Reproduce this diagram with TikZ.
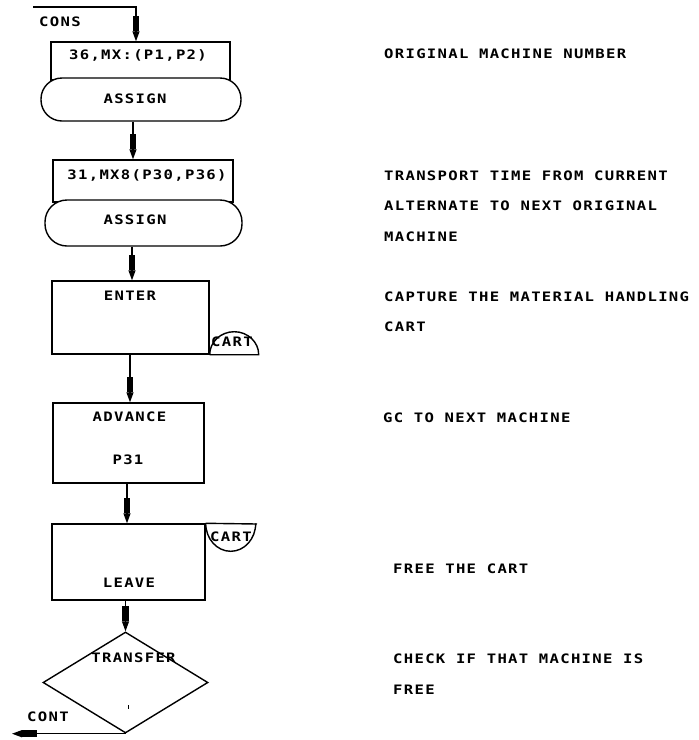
\documentclass[tikz,border=0pt]{standalone}
\usepackage{fontspec}
\newfontfamily\typer[FakeStretch=1.2,LetterSpace=10,UprightFont={* Bold},BoldFont={* Bold}]{DejaVu Sans Mono}
\usetikzlibrary{arrows.meta,shapes.geometric}
\tikzset{
  ln/.style={line width=1.4pt},
  box/.style={draw,line width=1.4pt,rectangle,inner sep=0pt},
  stad/.style={draw,line width=1.4pt,rectangle,rounded corners=21pt,fill=white,inner sep=0pt},
  txt/.style={font=\typer\fontsize{13}{15}\selectfont,inner sep=0pt,anchor=base},
  ltxt/.style={txt,anchor=base west},
  dart/.style={line width=1.2pt,-{Rectangle[length=15pt,width=6.5pt,sep=0pt]Triangle[length=10pt,width=7pt]}},
  dec/.style={shape=diamond,draw,line width=1.4pt,inner sep=0pt,shape aspect=1.65,minimum width=165pt,minimum height=101pt}
}
\begin{document}
\begin{tikzpicture}[x=1pt,y=-1pt]
\fill[white] (0,0) rectangle (699,740);
\useasboundingbox (0,0) rectangle (699,740);

% blocks
\node[box,minimum width=179pt,minimum height=38pt] (b1) at (140.5,61) {};
\node[stad,minimum width=200pt,minimum height=43pt] (s1) at (141,99.5) {};
\node[box,minimum width=180pt,minimum height=42pt] (b2) at (143,181) {};
\node[stad,rounded corners=22pt,minimum width=197pt,minimum height=46pt] (s2) at (143.5,223) {};
\node[box,minimum width=157pt,minimum height=73pt] (en) at (130.5,317.5) {};
\node[box,minimum width=151pt,minimum height=80pt] (ad) at (128.5,443) {};
\node[box,minimum width=153pt,minimum height=76pt] (lv) at (128.5,562) {};
\node[dec] (tr) at (125.5,682.5) {};

% CART semicircles
\draw[ln] (en.south east) arc[start angle=180,end angle=0,x radius=24.5pt,y radius=23pt] -- (en.south east);
\coordinate (cl) at (257,524);
\draw[ln] (lv.north east) -- (cl);
\draw[ln] (lv.north east) arc[start angle=180,end angle=360,x radius=25pt,y radius=28pt];

% column coordinates
\coordinate (in0) at (33,7);
\coordinate (k0) at (136,7);
\coordinate (x1) at (133,0);
\coordinate (x2) at (132,0);
\coordinate (x3) at (130,0);
\coordinate (x4) at (127,0);
\coordinate (out) at (12,733);

% connectors
\draw[dart] (in0) -- (k0) -- (b1.north -| k0);
\draw[dart] (s1.south -| x1) -- (b2.north -| x1);
\draw[dart] (s2.south -| x2) -- (en.north -| x2);
\draw[dart] (en.south -| x3) -- (ad.north -| x3);
\draw[dart] (ad.south -| x4) -- (lv.north -| x4);
\draw[dart] (lv.south -| tr.north) -- (tr.north);
\draw[dart] (tr.south) -- (tr.south -| out);

% small mark
\fill (127.6,704.5) rectangle (128.6,708.5);

% block texts
\node[ltxt] (tcons) at (39,26.5) {CONS};
\node[txt] (t1) at (138,59.5) {36,MX:(P1,P2)};
\node[txt] (t2) at (135,103.5) {ASSIGN};
\node[txt] (t3) at (147,179.5) {31,MX8(P30,P36)};
\node[txt] (t4) at (135,224.5) {ASSIGN};
\node[txt] (t5) at (130,300.5) {ENTER};
\node[ltxt] (t6) at (211,346.5) {CART};
\node[txt] (t7) at (129.5,421.5) {ADVANCE};
\node[txt] (t8) at (128,464.5) {P31};
\node[ltxt] (t9) at (210,541.5) {CART};
\node[txt] (t10) at (129,587.5) {LEAVE};
\node[txt] (t11) at (133.5,662.5) {TRANSFER};
\node[ltxt] (tcont) at (27,721.5) {CONT};

% comments
\node[ltxt] (r1) at (384,58.5) {ORIGINAL MACHINE NUMBER};
\node[ltxt] (r2) at (384,180.5) {TRANSPORT TIME FROM CURRENT};
\node[ltxt] (r3) at (384,210.5) {ALTERNATE TO NEXT ORIGINAL};
\node[ltxt] (r4) at (384,241.5) {MACHINE};
\node[ltxt] (r5) at (384,301.5) {CAPTURE THE MATERIAL HANDLING};
\node[ltxt] (r6) at (384,331.5) {CART};
\node[ltxt] (r7) at (383,422.5) {GC TO NEXT MACHINE};
\node[ltxt] (r8) at (393,573.5) {FREE THE CART};
\node[ltxt] (r9) at (393,663.5) {CHECK IF THAT MACHINE IS};
\node[ltxt] (r10) at (393,694.5) {FREE};
\end{tikzpicture}
\end{document}
